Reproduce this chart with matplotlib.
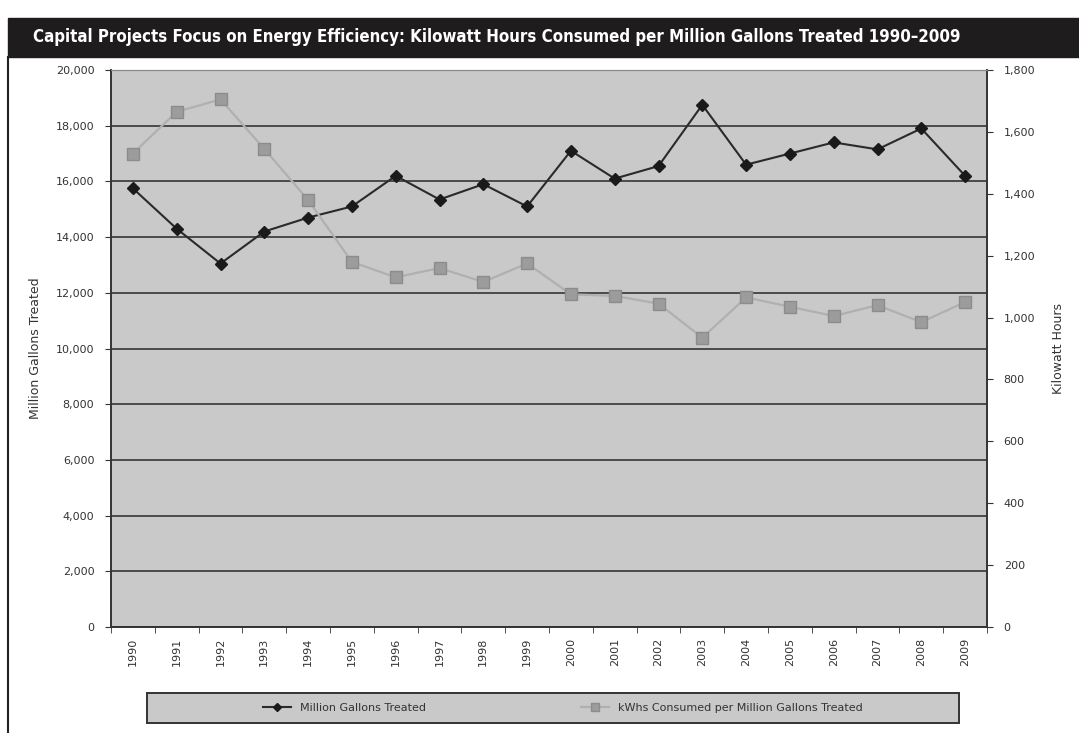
import matplotlib
matplotlib.use("Agg")
import matplotlib.pyplot as plt
from matplotlib.patches import Rectangle
from matplotlib.ticker import FuncFormatter, MultipleLocator

# data
years = [str(y) for y in range(1990, 2010)]
gallons = [15750, 14300, 13050, 14200, 14700, 15100, 16200, 15350, 15900, 15100,
           17100, 16100, 16550, 18750, 16600, 17000, 17400, 17150, 17900, 16200]
kwh = [1530, 1665, 1705, 1545, 1380, 1180, 1130, 1160, 1115, 1175,
       1075, 1070, 1045, 935, 1065, 1035, 1005, 1040, 985, 1050]

label_gal = 'Million Gallons Treated'
label_kwh = 'kWhs Consumed per Million Gallons Treated'

fig = plt.figure(figsize=(10.79, 7.33), dpi=100)
W, H = 1079, 733

# black title bar
fig.patches.append(Rectangle((8 / W, 1 - 57 / H), 1 - 8 / W, 39 / H,
                             transform=fig.transFigure, color='#1e1c1c', zorder=0))
title = fig.text(33 / W, 1 - 37 / H,
                 'Capital Projects Focus on Energy Efficiency: Kilowatt Hours Consumed per Million Gallons Treated 1990\u20132009',
                 color='white', fontsize=15.5, fontweight='bold', va='center', ha='left',
                 fontstretch='condensed')
# shrink title to fit the bar like the original
fig.canvas.draw()
tw = title.get_window_extent().width
if tw > 931:
    title.set_fontsize(15.5 * 931 / tw)

# left border line
fig.add_artist(plt.Line2D([8 / W, 8 / W], [0, 1 - 57 / H], transform=fig.transFigure,
                          color='#222', lw=1.5))

ax = fig.add_axes([111 / W, 1 - 627 / H, 876 / W, 557 / H])
ax.set_facecolor('#c9c9c9')
x = list(range(len(years)))

ax.plot(x, gallons, color='#2a2a2a', lw=1.5, marker='D', markersize=6,
        markerfacecolor='#1a1a1a', markeredgecolor='#1a1a1a', zorder=4, label=label_gal)
ax.set_ylim(0, 20000)
ax.set_xlim(-0.5, len(years) - 0.5)
ax.yaxis.set_major_locator(MultipleLocator(2000))
ax.yaxis.set_major_formatter(FuncFormatter(lambda v, p: f'{int(v):,}'))
ax.grid(axis='y', color='#4a4a4a', lw=1.4, zorder=1)
ax.set_axisbelow(True)
ax.set_xticks(x)
ax.set_xticklabels(years, rotation=90, fontsize=8, color='#333')
ax.set_xticks([i - 0.5 for i in range(len(years) + 1)], minor=True)
ax.tick_params(axis='x', which='major', length=0, pad=8)
ax.tick_params(axis='x', which='minor', length=4, color='#333')
ax.tick_params(axis='y', labelsize=8, labelcolor='#333', length=4, color='#333', pad=8)
ax.set_ylabel('Million Gallons Treated', fontsize=9, color='#333', labelpad=10)

ax2 = ax.twinx()
ax2.plot(x, kwh, color='#b0b0b0', lw=1.6, marker='s', markersize=8,
         markerfacecolor='#9c9c9c', markeredgecolor='#8c8c8c', zorder=3, label=label_kwh)
ax2.set_ylim(0, 1800)
ax2.yaxis.set_major_locator(MultipleLocator(200))
ax2.yaxis.set_major_formatter(FuncFormatter(lambda v, p: f'{int(v):,}'))
ax2.tick_params(axis='y', labelsize=8, labelcolor='#333', length=4, color='#333', pad=8)
ax2.set_ylabel('Kilowatt Hours', fontsize=9, color='#333', rotation=90, labelpad=12)

for a in (ax, ax2):
    for s in ('left', 'bottom', 'right'):
        a.spines[s].set_color('#333')
        a.spines[s].set_linewidth(1.2)
    a.spines['top'].set_color('#8a8a8a')

# legend box under the chart
fig.patches.append(Rectangle((147 / W, 1 - 723 / H), 812 / W, 30 / H,
                             transform=fig.transFigure, facecolor='#c9c9c9',
                             edgecolor='#333', lw=1.4, zorder=1))
h1, l1 = ax.get_legend_handles_labels()
h2, l2 = ax2.get_legend_handles_labels()
fig.legend(h1 + h2, l1 + l2, loc='center', bbox_to_anchor=(563 / W, 1 - 708 / H),
           ncol=2, frameon=False, fontsize=8, columnspacing=14, handlelength=2.5,
           labelcolor='#333', markerscale=0.7)

fig.savefig('out.png', dpi=100, facecolor='white')
